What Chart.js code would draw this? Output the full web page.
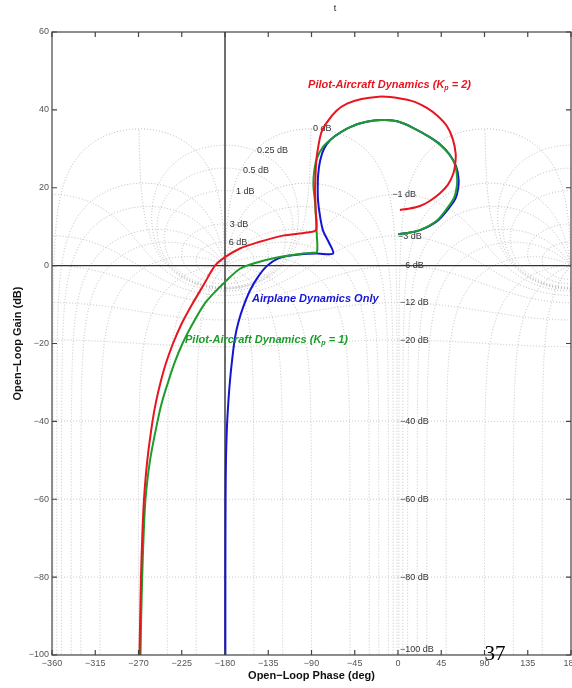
<!DOCTYPE html>
<html>
<head>
<meta charset="utf-8">
<script src="https://cdn.jsdelivr.net/npm/chart.js@4.4.1/dist/chart.umd.min.js"></script>
<style>
  html, body { margin: 0; padding: 0; background: #fff; }
  canvas { display: block; }
</style>
</head>
<body>
<canvas id="nichols" width="572" height="688"></canvas>
<script>
// open-loop curves: phase (deg) / gain (dB)
const redPhase = [-268.96, -268.23, -267.4, -266.15, -264.28, -260.84, -255.43, -251.79, -247.11, -241.38, -234.1, -225.26, -214.33, -202.37, -190.4, -180, -164.4, -146.7, -119.7, -94.7, -85.3,
    -85.6, -86.3, -86, -85.5, -84.3, -80, -74, -64, -53, -38, -20, -8, 5, 18, 30, 41, 51, 57, 60, 59.5, 57.5, 52, 43.7, 33, 22.9, 11, 2];
const redGain = [-100, -90, -80, -70, -60, -50, -40, -35, -30, -25, -20, -15, -10, -5, 0, 2.2, 4.4, 5.9, 7.7, 8.5, 9.2,
    14, 19.3, 22, 25, 28.5, 34, 36.8, 39.8, 41.6, 42.8, 43.4, 43.3, 42.8, 42, 40.5, 38.5, 35.8, 32.5, 28.8, 26, 23.6, 20.8, 18.6, 16.6, 15.3, 14.6, 14.3];

const greenPhase = [-267.92, -267.19, -266.15, -264.8, -262.72, -258.03, -250.23, -245.55, -239.3, -232.54, -224.22, -213.81, -201.85, -191.4, -180, -164.4, -146.7, -125.9, -101.9, -89, -84.3,
    -84.5, -85.5, -86.5, -88, -87.3, -84.5, -78, -70, -60, -53, -40, -25, -13.5, 0, 15.6, 33, 44, 52.5, 59.3, 61.5, 61, 58.5, 52, 40.6, 22.9, 10, 0];
const greenGain = [-100, -90, -80, -70, -60, -50, -40, -35, -30, -25, -20, -15, -10, -7, -4.2, -0.8, 0.8, 2.1, 3.0, 3.3, 3.5,
    8, 13, 16.7, 20.5, 24, 27.5, 30.5, 32.4, 34.2, 35.2, 36.5, 37.3, 37.4, 37, 35.4, 33, 31, 28.8, 26, 22.5, 20, 17.5, 15, 11.6, 9.1, 8.4, 8.1];

const bluePhase = [-179.6, -179.6, -179.4, -179, -178, -176.5, -174.8, -172.5, -169.6, -166, -161.3, -154, -146, -136, -125, -112, -98, -84.3, -67.6, -72, -78, -81, -83.2, -83.5, -83, -81, -77, -70, -60, -53, -40, -25, -13.5, 0, 15.6, 33, 44.5, 53.5, 60.5, 63, 62.5, 59.8, 53, 41, 23, 10, 0.5];
const blueGain = [-100, -80, -60, -50, -41.6, -35, -29.5, -24, -18.5, -14.5, -10.8, -6.4, -3, 0, 1.8, 2.6, 3.0, 3.1, 3.1, 6, 9, 12.5, 16.7, 20, 23.5, 27, 30, 32.4, 34.2, 35.2, 36.5, 37.3, 37.4, 37, 35.4, 33, 31, 28.6, 25.5, 22.3, 19.7, 17.2, 14.8, 11.5, 9.1, 8.4, 8.1];

const phaseTicks = [-360, -315, -270, -225, -180, -135, -90, -45, 0, 45, 90, 135, 180];
const gainTicks = [-100, -80, -60, -40, -20, 0, 20, 40, 60];

// nichols grid: closed-loop gain contours (dB) and closed-loop phase contours (deg)
const gridGains = [6, 3, 1, 0.5, 0.25, 0, -1, -3, -6, -12, -20, -40, -60, -80, -100];
const gridPhases = [1, 5, 10, 20, 30, 50, 90, 120, 150, 180];

const gridLabelText = ['6 dB', '3 dB', '1 dB', '0.5 dB', '0.25 dB', '0 dB', '−1 dB', '−3 dB', '−6 dB', '−12 dB', '−20 dB', '−40 dB', '−60 dB', '−80 dB', '−100 dB'];
const gridLabelPhase = [-176, -175, -168.5, -161.3, -146.7, -88.4, -6, 0, 2, 2, 2, 2, 2, 2, 2];
const gridLabelGain = [5.9, 10.5, 19, 24.4, 29.5, 35.2, 18.2, 7.6, 0, -9.5, -19.3, -40, -60, -80, -98.5];

const RED = '#e8141e';
const GREEN = '#1c9c2a';
const BLUE = '#1414d4';

const seriesLabels = [
    { pre: 'Pilot-Aircraft Dynamics (K', sub: 'p', post: ' = 2)', color: RED, phase: -93.6, gain: 46.5 },
    { pre: 'Airplane Dynamics Only', sub: '', post: '', color: BLUE, phase: -151.9, gain: -8.5 },
    { pre: 'Pilot-Aircraft Dynamics (K', sub: 'p', post: ' = 1)', color: GREEN, phase: -221.6, gain: -19 }
];

const FONT = "'Liberation Sans', Arial, Helvetica, sans-serif";
Chart.defaults.font.family = FONT;

const toNichols = (re, im) => [Math.atan2(im, re) * 180 / Math.PI, 20 * Math.log10(Math.hypot(re, im))];

const unwrap = (pts, start) => {
    let prev = start;
    return pts.map(([p, g]) => {
        while (p - prev > 180) p -= 360;
        while (p - prev < -180) p += 360;
        prev = p;
        return [p, g];
    });
};

const buildGrid = () => {
    const curves = [];
    gridGains.forEach(db => {
        const pts = [];
        if (db === 0) {
            // Re(L) = -1/2, swept by angle, stops near 35 dB like the original grid
            for (let i = 0; i <= 1200; i++) {
                const ang = -90.5 - 179 * i / 1200;
                const mag = -0.5 / Math.cos(ang * Math.PI / 180);
                pts.push([ang, 20 * Math.log10(mag)]);
            }
            curves.push(pts);
            return;
        }
        const M = Math.pow(10, db / 20);
        const c = -M * M / (M * M - 1), r = Math.abs(M / (M * M - 1));
        const dir = db > 0 ? 1 : -1;
        for (let i = 0; i <= 1440; i++) {
            const th = dir * 2 * Math.PI * i / 1440;
            pts.push(toNichols(c + r * Math.cos(th), r * Math.sin(th)));
        }
        curves.push(unwrap(pts, db > 0 ? -180 : 0));
    });
    const psis = [];
    gridPhases.forEach(p => { psis.push(-p); if (p !== 180) psis.push(-360 + p); });
    psis.forEach(psi => {
        const pts = [];
        const a = psi * Math.PI / 180;
        for (let i = 0; i <= 5000; i++) {
            const t = Math.pow(10, -5.6 + 9.6 * i / 5000);
            const tr = t * Math.cos(a), ti = t * Math.sin(a);
            const den = (1 - tr) * (1 - tr) + ti * ti;
            pts.push(toNichols((tr - t * t) / den, ti / den));
        }
        curves.push(unwrap(pts, psi));
    });
    return curves;
};
const gridCurves = buildGrid();

const nicholsPlugin = {
    id: 'nichols',
    beforeDraw(chart) {
        const ctx = chart.ctx;
        ctx.save();
        ctx.fillStyle = '#fff';
        ctx.fillRect(0, 0, chart.width, chart.height);
        ctx.restore();
    },
    beforeDatasetsDraw(chart) {
        const { ctx, chartArea: a, scales: { x, y } } = chart;
        ctx.save();
        ctx.beginPath();
        ctx.rect(a.left, a.top, a.right - a.left, a.bottom - a.top);
        ctx.clip();

        ctx.strokeStyle = '#bdbdbd';
        ctx.lineWidth = 1;
        ctx.setLineDash([1, 2]);
        gridCurves.forEach(curve => {
            [-360, 0, 360].forEach(shift => {
                ctx.beginPath();
                curve.forEach(([p, g], i) => {
                    const px = x.getPixelForValue(p + shift), py = y.getPixelForValue(Math.max(g, -130));
                    if (i) ctx.lineTo(px, py); else ctx.moveTo(px, py);
                });
                ctx.stroke();
            });
        });

        ctx.setLineDash([]);
        ctx.strokeStyle = '#333';
        ctx.lineWidth = 1.4;
        ctx.beginPath();
        ctx.moveTo(x.getPixelForValue(-180), a.top);
        ctx.lineTo(x.getPixelForValue(-180), a.bottom);
        ctx.moveTo(a.left, y.getPixelForValue(0));
        ctx.lineTo(a.right, y.getPixelForValue(0));
        ctx.stroke();

        ctx.fillStyle = '#333';
        ctx.font = '9px ' + FONT;
        ctx.textAlign = 'left';
        ctx.textBaseline = 'middle';
        gridLabelText.forEach((txt, i) => {
            ctx.fillText(txt, x.getPixelForValue(gridLabelPhase[i]), y.getPixelForValue(gridLabelGain[i]));
        });
        ctx.restore();
    },
    afterDatasetsDraw(chart) {
        const { ctx, chartArea: a, scales: { x, y } } = chart;
        ctx.save();
        ctx.textBaseline = 'middle';
        ctx.textAlign = 'left';
        seriesLabels.forEach(l => {
            let px = x.getPixelForValue(l.phase);
            const py = y.getPixelForValue(l.gain);
            ctx.fillStyle = l.color;
            ctx.font = 'italic bold 11px ' + FONT;
            ctx.fillText(l.pre, px, py);
            px += ctx.measureText(l.pre).width;
            if (l.sub) {
                ctx.font = 'italic bold 7px ' + FONT;
                ctx.fillText(l.sub, px, py + 3);
                px += ctx.measureText(l.sub).width;
                ctx.font = 'italic bold 11px ' + FONT;
                ctx.fillText(l.post, px, py);
            }
        });

        // frame + inward ticks
        ctx.strokeStyle = '#444';
        ctx.lineWidth = 1.2;
        ctx.strokeRect(a.left, a.top, a.right - a.left, a.bottom - a.top);
        ctx.beginPath();
        phaseTicks.forEach(v => {
            const px = x.getPixelForValue(v);
            ctx.moveTo(px, a.bottom); ctx.lineTo(px, a.bottom - 5);
            ctx.moveTo(px, a.top); ctx.lineTo(px, a.top + 5);
        });
        gainTicks.forEach(v => {
            const py = y.getPixelForValue(v);
            ctx.moveTo(a.left, py); ctx.lineTo(a.left + 5, py);
            ctx.moveTo(a.right, py); ctx.lineTo(a.right - 5, py);
        });
        ctx.stroke();
        ctx.restore();
    },
    afterDraw(chart) {
        const { ctx, chartArea: a } = chart;
        ctx.save();
        ctx.fillStyle = '#222';
        ctx.font = '9px ' + FONT;
        ctx.textAlign = 'center';
        ctx.textBaseline = 'middle';
        ctx.fillText('t', a.left + 283, 9);
        ctx.fillStyle = '#000';
        ctx.font = "21px 'Liberation Serif', 'Times New Roman', serif";
        ctx.textBaseline = 'alphabetic';
        ctx.fillText('37', 495, 660);
        ctx.restore();
    }
};

const toPoints = (ph, g) => ph.map((p, i) => ({ x: p, y: g[i] }));
const minus = v => String(v).replace('-', '\u2212');

const line = (label, ph, g, color, order) => ({
    label,
    data: toPoints(ph, g),
    showLine: true,
    borderColor: color,
    backgroundColor: color,
    borderWidth: 2,
    pointRadius: 0,
    tension: 0.3,
    order
});

new Chart(document.getElementById('nichols'), {
    type: 'scatter',
    data: {
        datasets: [
            line('Pilot-Aircraft Dynamics (Kp = 2)', redPhase, redGain, RED, 0),
            line('Pilot-Aircraft Dynamics (Kp = 1)', greenPhase, greenGain, GREEN, 1),
            line('Airplane Dynamics Only', bluePhase, blueGain, BLUE, 2)
        ]
    },
    options: {
        responsive: false,
        animation: false,
        events: [],
        layout: { padding: { top: 32, right: 1, left: 0, bottom: 0 } },
        plugins: { legend: { display: false }, tooltip: { enabled: false } },
        scales: {
            x: {
                type: 'linear', min: -360, max: 180,
                afterBuildTicks: s => { s.ticks = phaseTicks.map(v => ({ value: v })); },
                ticks: { color: '#555', font: { size: 9 }, padding: 3, maxRotation: 0, autoSkip: false, callback: minus },
                grid: { display: false, drawTicks: false },
                border: { display: false },
                title: { display: true, text: 'Open−Loop Phase (deg)', color: '#111', font: { size: 11, weight: 'bold' }, padding: 5 },
                afterFit: s => { s.height = 33; s.paddingLeft = 0; s.paddingRight = 0; }
            },
            y: {
                type: 'linear', min: -100, max: 60,
                afterBuildTicks: s => { s.ticks = gainTicks.map(v => ({ value: v })); },
                ticks: { color: '#555', font: { size: 9 }, padding: 3, callback: minus },
                grid: { display: false, drawTicks: false },
                border: { display: false },
                title: { display: true, text: 'Open−Loop Gain (dB)', color: '#111', font: { size: 11, weight: 'bold' }, padding: 11 },
                afterFit: s => { s.width = 52; s.paddingTop = 0; s.paddingBottom = 0; }
            }
        }
    },
    plugins: [nicholsPlugin]
});
</script>
</body>
</html>
